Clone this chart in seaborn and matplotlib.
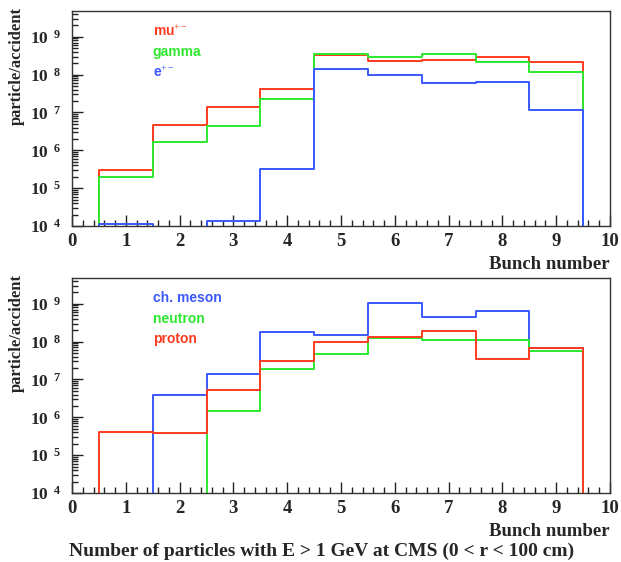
import numpy as np
import pandas as pd
import matplotlib
matplotlib.use("Agg")
import matplotlib.pyplot as plt
import seaborn as sns
from matplotlib.ticker import FixedLocator, FuncFormatter, LogLocator, MultipleLocator, NullFormatter

# ---------------- data ----------------
bunch = [1, 2, 3, 4, 5, 6, 7, 8, 9]

mu = [3.0e5, 4.7e6, 1.4e7, 4.1e7, 3.2e8, 2.3e8, 2.5e8, 2.9e8, 2.2e8]
gamma = [1.96e5, 1.7e6, 4.4e6, 2.2e7, 3.4e8, 3.0e8, 3.4e8, 2.2e8, 1.2e8]
electron = [1.1e4, 0, 1.38e4, 3.2e5, 1.4e8, 1.0e8, 6.1e7, 6.5e7, 1.13e7]

meson = [0, 4.0e6, 1.37e7, 1.74e8, 1.5e8, 1.07e9, 4.6e8, 6.6e8, 6.8e7]
neutron = [0, 0, 1.5e6, 1.85e7, 4.8e7, 1.26e8, 1.07e8, 1.07e8, 5.6e7]
proton = [4.0e5, 3.8e5, 5.3e6, 3.0e7, 1.0e8, 1.3e8, 1.86e8, 3.4e7, 6.6e7]

top_labels = ["mu$^{+-}$", "gamma", "e$^{+-}$"]
bottom_labels = ["ch. meson", "neutron", "proton"]
x_label = "Bunch number"
y_label = "particle/accident"
caption = "Number of particles with E > 1 GeV at CMS (0 < r < 100 cm)"

RED = "#ff3b1f"
GREEN = "#2ee82e"
BLUE = "#3a58ff"

# ---------------- style ----------------
sns.set_theme(style="white")
plt.rcParams["font.family"] = ["Liberation Serif", "DejaVu Serif"]
plt.rcParams["mathtext.fontset"] = "custom"
plt.rcParams["mathtext.rm"] = "Liberation Serif"
plt.rcParams["mathtext.bf"] = "Liberation Serif:bold"
plt.rcParams["mathtext.it"] = "Liberation Serif:italic"

fig = plt.figure(figsize=(6.21, 5.62), dpi=100)
ax1 = fig.add_axes([72 / 621, 1 - 226 / 562, 538 / 621, 215 / 562])
ax2 = fig.add_axes([72 / 621, 1 - 493 / 562, 538 / 621, 215 / 562])

edges = [float(e) for e in np.arange(-0.5, 11.0, 1.0)]


def draw(ax, series, colors):
    for vals, col in zip(series, colors):
        df = pd.DataFrame({"bunch": [0] + bunch + [10], "w": [0.0] + [float(v) for v in vals] + [0.0]})
        sns.histplot(data=df, x="bunch", weights="w", bins=edges, element="step",
                     fill=False, color=col, linewidth=1.4, ax=ax)


def style(ax, labels, colors):
    ax.set_yscale("log", nonpositive="clip")
    ax.set_xlim(0, 10)
    ax.set_ylim(1e4, 10 ** 9.68)
    ax.set_xlabel("")
    ax.set_ylabel(y_label, fontsize=12, fontweight="bold", labelpad=4)
    ax.yaxis.set_label_coords(-0.088, 0.745)
    for s in ax.spines.values():
        s.set_color("#333333")
        s.set_linewidth(1.0)
    ax.xaxis.set_major_locator(MultipleLocator(1))
    ax.xaxis.set_minor_locator(MultipleLocator(0.2))
    ax.yaxis.set_major_locator(FixedLocator([1e4, 1e5, 1e6, 1e7, 1e8, 1e9]))
    ax.yaxis.set_minor_locator(LogLocator(base=10, subs=np.arange(2, 10), numticks=60))
    ax.yaxis.set_minor_formatter(NullFormatter())
    ax.yaxis.set_major_formatter(FuncFormatter(
        lambda v, p: r"$\mathbf{10}^{\ \ \mathbf{%d}}$" % int(round(np.log10(v)))))
    ax.tick_params(which="both", direction="in", bottom=True, left=True, top=False, right=False,
                   color="#222222")
    ax.tick_params(which="major", length=8, width=1.0)
    ax.tick_params(which="minor", length=4, width=1.0)
    ax.tick_params(axis="x", pad=5, labelsize=13.5)
    ax.tick_params(axis="y", pad=8, labelsize=12.5)
    for t in ax.get_xticklabels() + ax.get_yticklabels():
        t.set_fontweight("bold")
    ax.grid(False)
    for i, (lab, col) in enumerate(zip(labels, colors)):
        ax.text(1.5, 10 ** (9.14 - 0.54 * i), lab, color=col, fontsize=10, fontweight="bold",
                family=["Liberation Sans", "DejaVu Sans"], va="center", ha="left")
    ax.text(1.0, -0.18, x_label, transform=ax.transAxes, ha="right", va="center",
            fontsize=13.5, fontweight="bold")


draw(ax1, [mu, gamma, electron], [RED, GREEN, BLUE])
style(ax1, top_labels, [RED, GREEN, BLUE])
draw(ax2, [meson, neutron, proton], [BLUE, GREEN, RED])
style(ax2, bottom_labels, [BLUE, GREEN, RED])

fig.text(322 / 621, 1 - 551 / 562, caption, ha="center", va="center", fontsize=14, fontweight="bold")

fig.savefig("out.png", dpi=100)
